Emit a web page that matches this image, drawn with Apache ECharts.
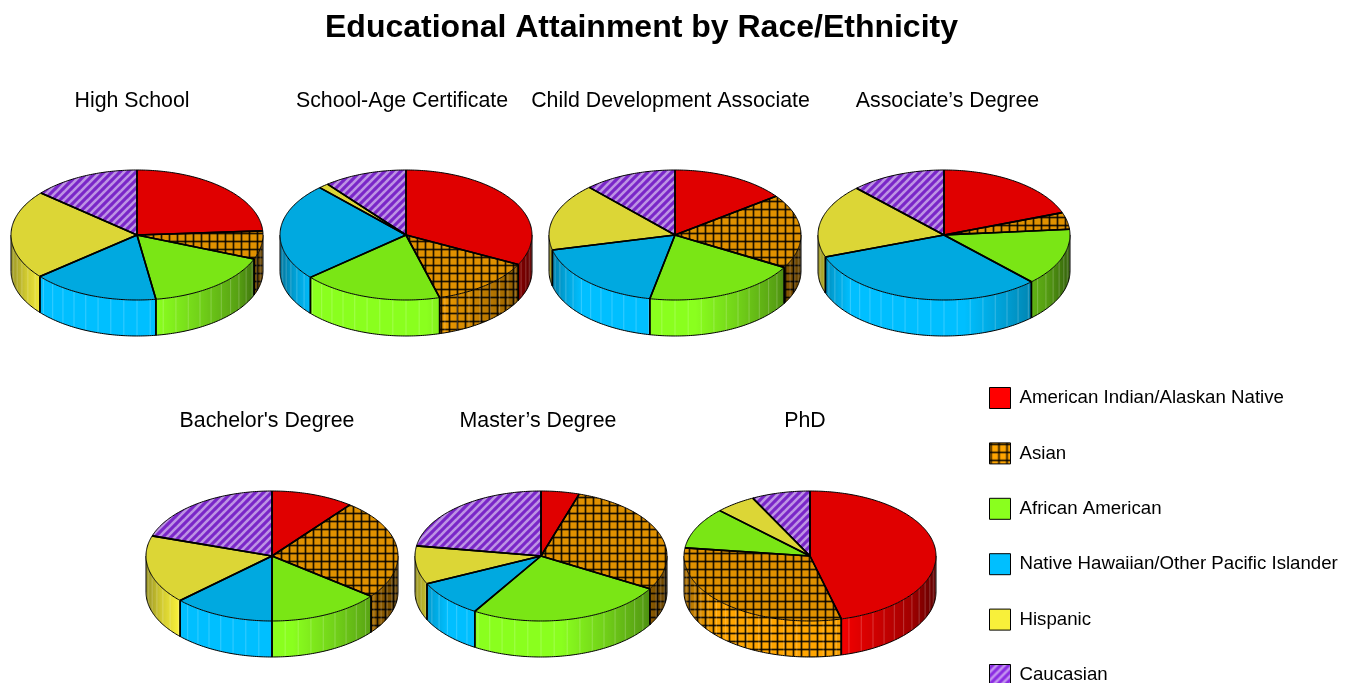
<!DOCTYPE html>
<html>
<head>
<meta charset="utf-8">
<title>Educational Attainment by Race/Ethnicity</title>
<script src="https://cdn.jsdelivr.net/npm/echarts@6/dist/echarts.min.js"></script>
<style>
  html, body { margin: 0; padding: 0; background: #fff; }
  #main { width: 1354px; height: 683px; }
</style>
</head>
<body>
<div id="main"></div>
<script>
const degrees = ['High School', 'School-Age Certificate', 'Child Development Associate', 'Associate’s Degree', "Bachelor's Degree", 'Master’s Degree', 'PhD']
const races = ['American Indian/Alaskan Native', 'Asian', 'African American', 'Native Hawaiian/Other Pacific Islander', 'Hispanic', 'Caucasian']

// percent shares, same order as degrees
const americanIndian = [24, 32.5, 14.8, 19.4, 10.6, 4.9, 46]
const asian = [7, 13.2, 18.5, 4.2, 25, 28.5, 31]
const africanAmerican = [16.6, 18, 19.9, 14.2, 14.4, 25.4, 10.3]
const nativeHawaiian = [16.4, 24.3, 18.1, 31.7, 13, 9.2, 0]
const hispanic = [22.2, 1.3, 16.8, 18.3, 17, 9.5, 5.2]
const caucasian = [13.8, 10.7, 11.9, 12.2, 20, 22.5, 7.5]
const shares = [americanIndian, asian, africanAmerican, nativeHawaiian, hispanic, caucasian]

const pieCenters = [[137, 235], [406, 235], [675, 235], [944, 235], [272, 556], [541, 556], [810, 556]]
const titleSpots = [[132, 91], [402, 91], [670.5, 91], [947.5, 91], [267, 411], [538, 411], [805, 411]]
const RX = 126
const RY = 65
const DEPTH = 36

const sideColors = ['#ff0000', '#ffa500', '#8aff1e', '#00bfff', '#f8f03a', '#8a2be2']
const topColors = ['#e00000', '#e09100', '#7ae615', '#00a9e0', '#dcd636', '#7a26c8']

function gridPattern(color) {
  let c = document.createElement('canvas')
  c.width = 8
  c.height = 8
  let g = c.getContext('2d')
  g.fillStyle = color
  g.fillRect(0, 0, 8, 8)
  g.fillStyle = 'rgba(0,0,0,0.3)'
  g.fillRect(0, 0, 8, 3)
  g.fillRect(0, 0, 3, 8)
  g.fillStyle = 'rgba(0,0,0,0.8)'
  g.fillRect(0, 1, 8, 1)
  g.fillRect(1, 0, 1, 8)
  return { image: c, repeat: 'repeat' }
}

function stripePattern(color) {
  let c = document.createElement('canvas')
  c.width = 8
  c.height = 8
  let g = c.getContext('2d')
  g.fillStyle = color
  g.fillRect(0, 0, 8, 8)
  g.strokeStyle = 'rgba(255,255,255,0.5)'
  g.lineWidth = 2.6
  for (let i = -8; i <= 16; i += 8) {
    g.beginPath()
    g.moveTo(i - 1, 9)
    g.lineTo(i + 9, -1)
    g.stroke()
  }
  return { image: c, repeat: 'repeat' }
}

function sliceFill(k, colors) {
  if (k === 1) return gridPattern(colors[k])
  if (k === 5) return stripePattern(colors[k])
  return colors[k]
}
const topFills = races.map((r, k) => sliceFill(k, topColors))
const sideFills = races.map((r, k) => sliceFill(k, sideColors))

function point(c, deg, dy) {
  let a = (deg * Math.PI) / 180
  return [c[0] + RX * Math.sin(a), c[1] - RY * Math.cos(a) + (dy || 0)]
}

function shadeFor(c) {
  return new echarts.graphic.LinearGradient(c[0] - RX, 0, c[0] + RX, 0, [
    { offset: 0, color: 'rgba(0,0,0,0.38)' },
    { offset: 0.06, color: 'rgba(0,0,0,0.16)' },
    { offset: 0.13, color: 'rgba(0,0,0,0)' },
    { offset: 0.58, color: 'rgba(0,0,0,0)' },
    { offset: 0.75, color: 'rgba(0,0,0,0.18)' },
    { offset: 0.9, color: 'rgba(0,0,0,0.37)' },
    { offset: 1, color: 'rgba(0,0,0,0.62)' },
  ], true)
}

function renderSlice(k) {
  return function (params, api) {
    let d = api.value(0)
    let v = api.value(1)
    if (!v) return null
    let total = 0
    let before = 0
    shares.forEach((s, i) => {
      total += s[d]
      if (i < k) before += s[d]
    })
    let from = (before / total) * 360
    let to = ((before + v) / total) * 360
    let c = pieCenters[d]
    let children = []

    // front wall, only the part between 3 and 9 o'clock shows
    let a0 = Math.max(from, 90)
    let a1 = Math.min(to, 270)
    if (a1 > a0) {
      let wall = []
      for (let a = a0; a < a1; a += 1) wall.push(point(c, a))
      wall.push(point(c, a1))
      for (let a = a1; a > a0; a -= 1) wall.push(point(c, a, DEPTH))
      wall.push(point(c, a0, DEPTH))
      children.push({ type: 'polygon', z2: 1, shape: { points: wall }, style: { fill: sideFills[k] } })
      children.push({ type: 'polygon', z2: 2, shape: { points: wall }, style: { fill: shadeFor(c) } })
      for (let a = Math.ceil(a0 / 6) * 6; a < a1; a += 6) {
        let p = point(c, a)
        children.push({
          type: 'line', z2: 3,
          shape: { x1: p[0], y1: p[1], x2: p[0], y2: p[1] + DEPTH },
          style: { stroke: 'rgba(255,255,255,0.22)', lineWidth: 1 },
        })
      }
      let rim = []
      for (let a = a0; a < a1; a += 1) rim.push(point(c, a, DEPTH))
      rim.push(point(c, a1, DEPTH))
      children.push({ type: 'polyline', z2: 4, shape: { points: rim }, style: { fill: 'none', stroke: '#000', lineWidth: 1 } })
      let pa = point(c, a0)
      let pb = point(c, a1)
      children.push({ type: 'line', z2: 4, shape: { x1: pa[0], y1: pa[1], x2: pa[0], y2: pa[1] + DEPTH }, style: { stroke: '#000', lineWidth: a0 === 90 ? 1 : 1.5 } })
      children.push({ type: 'line', z2: 4, shape: { x1: pb[0], y1: pb[1], x2: pb[0], y2: pb[1] + DEPTH }, style: { stroke: '#000', lineWidth: a1 === 270 ? 1 : 1.5 } })
    }

    // top face, thin outer arc and heavier radial edges
    let arc = []
    for (let a = from; a < to; a += 1) arc.push(point(c, a))
    arc.push(point(c, to))
    children.push({ type: 'polygon', z2: 10, shape: { points: [c].concat(arc) }, style: { fill: topFills[k] } })
    children.push({ type: 'polyline', z2: 11, shape: { points: arc }, style: { fill: 'none', stroke: '#000', lineWidth: 1 } })
    children.push({
      type: 'polyline', z2: 12,
      shape: { points: [arc[0], c, arc[arc.length - 1]] },
      style: { fill: 'none', stroke: '#000', lineWidth: 1.6, lineJoin: 'round' },
    })
    return { type: 'group', children: children }
  }
}

let myChart = echarts.init(document.getElementById('main'))

let titles = [{
  text: 'Educational Attainment by Race/Ethnicity',
  left: 641.5,
  top: 12,
  padding: 0,
  textAlign: 'center',
  textStyle: { fontFamily: 'Liberation Sans', fontSize: 32, fontWeight: 'bold', color: '#000' },
}]
degrees.forEach((name, i) => {
  titles.push({
    text: name,
    left: titleSpots[i][0],
    top: titleSpots[i][1],
    padding: 0,
    textAlign: 'center',
    textStyle: { fontFamily: 'Liberation Sans', fontSize: 21.33, fontWeight: 'normal', color: '#000' },
  })
})

let option = {
  animation: false,
  backgroundColor: '#fff',
  title: titles,
  legend: {
    orient: 'vertical',
    left: 989,
    top: 387,
    height: 320,
    padding: 0,
    itemWidth: 21,
    itemHeight: 21,
    itemGap: 33.4,
    selectedMode: false,
    textStyle: { fontFamily: 'Liberation Sans', fontSize: 18.67, color: '#000', padding: [3, 0, 0, 4] },
    data: races.map((name, k) => ({
      name: name,
      icon: 'rect',
      itemStyle: { color: sideFills[k], borderColor: '#000', borderWidth: 1 },
    })),
  },
  series: races.map((name, k) => ({
    name: name,
    type: 'custom',
    coordinateSystem: 'none',
    clip: false,
    silent: true,
    itemStyle: { color: sideColors[k] },
    renderItem: renderSlice(k),
    data: shares[k].map((v, d) => [d, v]),
  })),
}
myChart.setOption(option)
window.addEventListener('resize', () => {
  myChart.resize()
})
</script>
</body>
</html>
